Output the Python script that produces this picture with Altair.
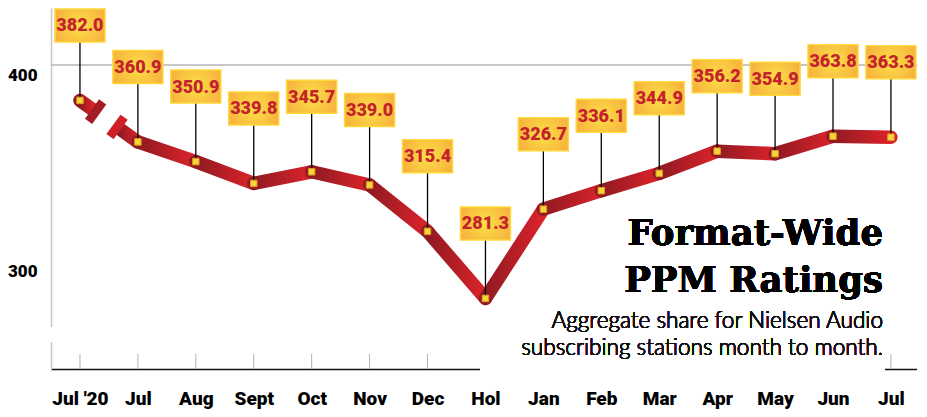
import json
import altair as alt
import pandas as pd

# ---------------- data ----------------
months = ["Jul '20", "Jul", "Aug", "Sept", "Oct", "Nov", "Dec", "Hol",
          "Jan", "Feb", "Mar", "Apr", "May", "Jun", "Jul"]
ratings = [382.0, 360.9, 350.9, 339.8, 345.7, 339.0, 315.4, 281.3,
           326.7, 336.1, 344.9, 356.2, 354.9, 363.8, 363.3]
y_ticks = [300, 400]
grid_values = [400]
title_lines = ["Format-Wide", "PPM Ratings"]
subtitle_lines = ["Aggregate share for Nielsen Audio",
                  "subscribing stations month to month."]

# ---------------- layout / style ----------------
W, H = 866, 361
X_DOM = [-0.5, 14.45]
Y_DOM = [245.4, 429.0]
HEAVY = "Roboto"
BOX_OFF = 75          # px from point to label-box centre
BOX_HALF_H = 16.5
BREAK_A, BREAK_B = 0.27, 0.64

pts = pd.DataFrame({"i": list(range(len(months))), "v": ratings})


def lerp(i, t):
    return ratings[i] + (ratings[i + 1] - ratings[i]) * t


seg_rows = [
    dict(seg=0, x=0, y=ratings[0]),
    dict(seg=0, x=BREAK_A - 0.04, y=lerp(0, BREAK_A - 0.04)),
    dict(seg=1, x=BREAK_B + 0.04, y=lerp(0, BREAK_B + 0.04)),
    dict(seg=1, x=1, y=ratings[1]),
]
for i in range(1, len(ratings) - 1):
    seg_rows.append(dict(seg=i + 1, x=i, y=ratings[i]))
    seg_rows.append(dict(seg=i + 1, x=i + 1, y=ratings[i + 1]))
segs = pd.DataFrame(seg_rows)

caps = pd.DataFrame({
    "x": [BREAK_A, BREAK_B],
    "y": [lerp(0, BREAK_A), lerp(0, BREAK_B)],
    "c": ["#a51c24", "#cf2028"],
})

label_expr = json.dumps(months) + "[datum.value]"

x_axis = alt.Axis(values=list(range(len(months))), labelExpr=label_expr,
                  title=None, grid=False, ticks=False, domain=True,
                  domainColor="#111111", domainWidth=1.5,
                  labelFont=HEAVY, labelFontSize=19, labelFontWeight=900,
                  labelColor="#000000", labelPadding=20, labelOverlap=False,
                  labelFlush=False)
y_axis = alt.Axis(values=y_ticks, title=None, grid=False, ticks=False,
                  domain=True, domainColor="#c8c8c8", domainWidth=1.5,
                  labelFont=HEAVY, labelFontSize=17, labelFontWeight=900,
                  labelColor="#000000", labelPadding=14, labelOffset=10)

xs = alt.Scale(domain=X_DOM, nice=False, zero=False)
ys = alt.Scale(domain=Y_DOM, nice=False, zero=False)


def X(f):
    return alt.X(f, type="quantitative", scale=xs, axis=x_axis)


def Y(f):
    return alt.Y(f, type="quantitative", scale=ys, axis=y_axis)


line_grad = {"gradient": "linear", "x1": 0, "y1": 0, "x2": 1, "y2": 0,
             "stops": [{"offset": 0, "color": "#901a22"},
                       {"offset": 1, "color": "#dc232a"}]}
box_grad = {"gradient": "radial", "x1": 0.5, "y1": 0.5, "r1": 0,
            "x2": 0.5, "y2": 0.5, "r2": 0.75,
            "stops": [{"offset": 0, "color": "#fde047"},
                      {"offset": 1, "color": "#f4a03a"}]}

base = alt.Chart(pts)

grid = alt.Chart(pd.DataFrame({"g": grid_values})).mark_rule(
    color="#b5b5b5", strokeWidth=1.5).encode(
    y=Y("g"), x=alt.value(0), x2=alt.value(W))

xticks = base.mark_rule(color="#b0b0b0", strokeWidth=1).encode(
    x=X("i"), y=alt.value(H - 15), y2=alt.value(H))

blank_bottom = base.mark_rect(color="white").encode(
    x=alt.value(429), x2=alt.value(834), y=alt.value(280), y2=alt.value(365))
blank_left = base.mark_rect(color="white").encode(
    x=alt.value(-4), x2=alt.value(4), y=alt.value(319), y2=alt.value(334))

line = alt.Chart(segs).mark_line(
    stroke=line_grad, strokeWidth=13.5, strokeCap="round", strokeJoin="round"
).encode(x=X("x"), y=Y("y"), detail="seg:N", order="x:Q")

cap_marks = alt.Chart(caps).mark_point(
    shape="M-1,-0.37L1,-0.37L1,0.37L-1,0.37Z", size=576, angle=126,
    filled=True, opacity=1, strokeWidth=0).encode(
    x=X("x"), y=Y("y"), fill=alt.Fill("c:N", scale=None))

conn_len = BOX_OFF - BOX_HALF_H
connectors = base.mark_point(
    shape="M0,0L0,-1", size=(2 * conn_len) ** 2, filled=False,
    stroke="#000000", strokeWidth=1.3, opacity=1).encode(x=X("i"), y=Y("v"))

markers = base.mark_point(
    shape="square", size=42, filled=True, fill="#f8d33a", stroke="#d99a22",
    strokeWidth=1, opacity=1).encode(x=X("i"), y=Y("v"))

boxes = base.mark_point(
    shape="M-1,-0.66L1,-0.66L1,0.66L-1,0.66Z", size=2500, filled=True,
    fill=box_grad, stroke="#fcd83a", strokeWidth=1.5, opacity=1,
    yOffset=-BOX_OFF).encode(x=X("i"), y=Y("v"))

texts = base.mark_text(
    font=HEAVY, fontWeight=900, fontSize=18, color="#c4232b",
    baseline="middle", align="center", yOffset=-BOX_OFF + 1).encode(
    x=X("i"), y=Y("v"), text=alt.Text("v:Q", format=".1f"))

title_layers = []
for k, t in enumerate(title_lines):
    title_layers.append(base.mark_text(
        font="DejaVu Serif", fontWeight="bold", fontSize=35.5, color="#000000",
        align="right", baseline="alphabetic").encode(
        x=alt.value(832), y=alt.value(237 + 47 * k), text=alt.value(t)))
for k, t in enumerate(subtitle_lines):
    title_layers.append(base.mark_text(
        font="Lato", fontWeight=300, fontSize=22.6, color="#111111",
        align="right", baseline="alphabetic").encode(
        x=alt.value(832), y=alt.value(320 + 27 * k), text=alt.value(t)))

chart = alt.layer(
    grid, xticks, blank_bottom, blank_left, line, cap_marks, connectors,
    markers, boxes, texts, *title_layers
).properties(
    width=W, height=H, autosize="none",
    padding={"left": 43, "top": 0, "right": 0, "bottom": 40},
).configure_view(strokeWidth=0)

chart.save("out.html", embed_options={"renderer": "svg", "actions": False})
